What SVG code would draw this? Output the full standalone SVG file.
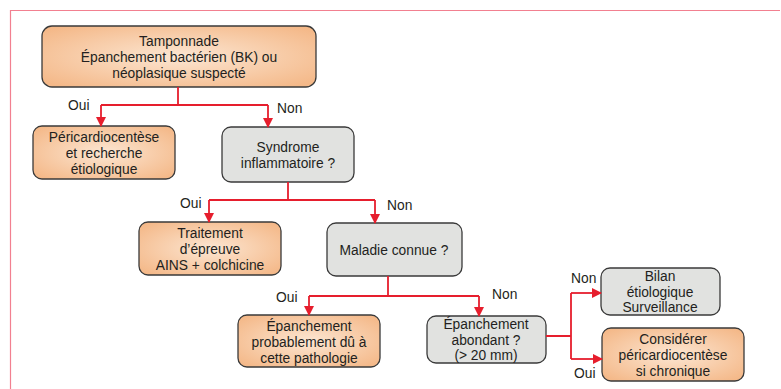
<svg xmlns="http://www.w3.org/2000/svg" width="781" height="389" viewBox="0 0 781 389">
<defs>
<radialGradient id="og" cx="50%" cy="50%" r="65%">
<stop offset="0" stop-color="#fce6d2"/>
<stop offset="1" stop-color="#f4b888"/>
</radialGradient>
<marker id="ah" viewBox="0 0 10 10" refX="9" refY="5" markerWidth="10" markerHeight="10" markerUnits="userSpaceOnUse" orient="auto">
<path d="M0,0 L10,5 L0,10 Z" fill="#e61e2d"/>
</marker>
</defs>
<style>
.o{fill:url(#og);stroke:#3a3a3a;stroke-width:1.3}
.g{fill:#e1e2e0;stroke:#3a3a3a;stroke-width:1.3}
text{font-family:"Liberation Sans",Arial,sans-serif;font-size:13.8px;fill:#231f20}
.c{text-anchor:middle}
.e{fill:none;stroke:#e61e2d;stroke-width:1.8}
</style>
<rect width="781" height="389" fill="#fff"/>
<path d="M10.5,389 V10.5 H780" fill="none" stroke="#f28090" stroke-width="1.2"/>

<g id="n1"><rect class="o" x="42" y="26" width="274" height="61" rx="10"/>
<text class="c" x="179" y="46">Tamponnade</text>
<text class="c" x="179" y="62">Épanchement bactérien (BK) ou</text>
<text class="c" x="179" y="78">néoplasique suspecté</text></g>

<g id="n2"><rect class="o" x="33" y="126" width="142" height="53" rx="9"/>
<text class="c" x="104" y="142">Péricardiocentèse</text>
<text class="c" x="104" y="158">et recherche</text>
<text class="c" x="104" y="174">étiologique</text></g>

<g id="n3"><rect class="g" x="222" y="127" width="132" height="55" rx="9"/>
<text class="c" x="288" y="152">Syndrome</text>
<text class="c" x="288" y="168">inflammatoire ?</text></g>

<g id="n4"><rect class="o" x="139" y="222" width="142" height="53" rx="9"/>
<text class="c" x="210" y="238">Traitement</text>
<text class="c" x="210" y="254">d’épreuve</text>
<text class="c" x="210" y="270">AINS + colchicine</text></g>

<g id="n5"><rect class="g" x="327" y="223" width="135" height="53" rx="9"/>
<text class="c" x="394" y="255">Maladie connue ?</text></g>

<g id="n6"><rect class="o" x="238" y="315" width="142" height="52" rx="9"/>
<text class="c" x="309" y="331">Épanchement</text>
<text class="c" x="309" y="347">probablement dû à</text>
<text class="c" x="309" y="363">cette pathologie</text></g>

<g id="n7"><rect class="g" x="427" y="316" width="119" height="47" rx="9"/>
<text class="c" x="486" y="329">Épanchement</text>
<text class="c" x="486" y="344.5">abondant ?</text>
<text class="c" x="486" y="360">(&gt; 20 mm)</text></g>

<g id="n8"><rect class="g" x="601" y="268" width="119" height="47" rx="9"/>
<text class="c" x="660" y="281">Bilan</text>
<text class="c" x="660" y="296.5">étiologique</text>
<text class="c" x="660" y="312">Surveillance</text></g>

<g id="n9"><rect class="o" x="602" y="328" width="142" height="53" rx="9"/>
<text class="c" x="673" y="344">Considérer</text>
<text class="c" x="673" y="360">péricardiocentèse</text>
<text class="c" x="673" y="376">si chronique</text></g>

<g id="edges">
<path class="e" d="M178,87 V105 M101,105 H268"/>
<path class="e" d="M101,105 V126" marker-end="url(#ah)"/>
<path class="e" d="M268,105 V127" marker-end="url(#ah)"/>
<path class="e" d="M288,182 V200 M209,200 H375"/>
<path class="e" d="M209,200 V222" marker-end="url(#ah)"/>
<path class="e" d="M375,200 V223" marker-end="url(#ah)"/>
<path class="e" d="M388,276 V296 M309,296 H479"/>
<path class="e" d="M309,296 V315" marker-end="url(#ah)"/>
<path class="e" d="M479,296 V316" marker-end="url(#ah)"/>
<path class="e" d="M546,336 H571 M571,293 V359"/>
<path class="e" d="M571,293 H601" marker-end="url(#ah)"/>
<path class="e" d="M571,359 H602" marker-end="url(#ah)"/>
<text x="68" y="110">Oui</text>
<text x="277" y="113">Non</text>
<text x="180" y="208">Oui</text>
<text x="387" y="210">Non</text>
<text x="276" y="302">Oui</text>
<text x="492" y="299">Non</text>
<text x="571" y="283">Non</text>
<text x="574" y="378">Oui</text>
</g>
</svg>
